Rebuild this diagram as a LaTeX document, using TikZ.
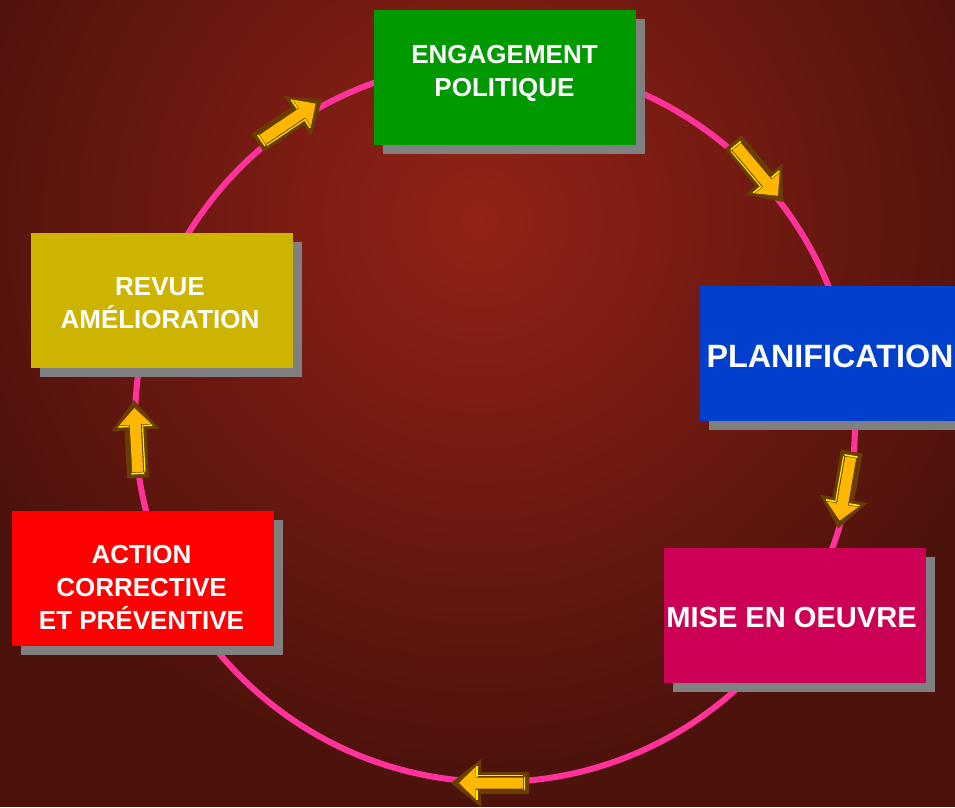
\documentclass[tikz,border=0pt]{standalone}
\usepackage{fontspec}
\setmainfont{Liberation Sans}
\usetikzlibrary{shadows}
\definecolor{bgout}{RGB}{76,18,12}
\definecolor{bglight}{RGB}{148,34,22}
\definecolor{ringpink}{RGB}{255,51,153}
\definecolor{boxgreen}{RGB}{0,153,0}
\definecolor{boxblue}{RGB}{0,64,204}
\definecolor{boxmagenta}{RGB}{204,0,85}
\definecolor{boxred}{RGB}{255,0,0}
\definecolor{boxyellow}{RGB}{204,180,0}
\definecolor{shadowgray}{RGB}{128,128,128}
\definecolor{arrowbrown}{RGB}{105,60,0}
\definecolor{arroworange}{RGB}{255,183,0}
\definecolor{arrowhi}{RGB}{255,238,0}
\tikzset{
  stepbox/.style={rectangle, draw=none, minimum width=196.5pt, minimum height=101.25pt, inner sep=0pt,
    drop shadow={shadow xshift=6.75pt, shadow yshift=-6.75pt, fill=shadowgray, opacity=1}},
  lbl/.style={text=white, align=center, inner sep=0pt, font=\fontsize{19.5pt}{24.75pt}\selectfont\bfseries},
  blockarrow/.pic={
    \fill[arrowbrown] (-39,-11) -- (9,-11) -- (9,-24) -- (39,0) -- (9,24) -- (9,11) -- (-39,11) -- cycle;
    \fill[arroworange] (-33,-5.5) -- (14.5,-5.5) -- (14.5,-16) -- (31,0) -- (14.5,16) -- (14.5,5.5) -- (-33,5.5) -- cycle;
    \draw[arrowhi, line width=1.2pt] (-34.5,-6.5) -- (-34.5,6.5);
    \draw[arrowhi, line width=1.2pt] (13,-6.5) -- (13,-17);
    \draw[arrowhi, line width=1.2pt] (13,6.5) -- (13,17);
    \draw[arrowhi, line width=0.9pt] (-33,7.2) -- (12,7.2);
  }
}
\begin{document}
\begin{tikzpicture}[x=0.75pt,y=-0.75pt]
\useasboundingbox (0,0) rectangle (955,807);
\begin{scope}
\clip (0,0) rectangle (955,807);
% background
\fill[bgout] (0,0) rectangle (955,807);
\shade[inner color=bglight, outer color=bgout] (480,220) circle (560);
% ring
\draw[ringpink, line width=4.5pt] (495,422) circle (360);
% arrows
\pic[rotate=34] (arr1) at (290,121) {blockarrow};
\pic[rotate=-50] (arr2) at (758,172) {blockarrow};
\pic[rotate=-100] (arr3) at (845,490) {blockarrow};
\pic[rotate=180] (arr4) at (490,783) {blockarrow};
\pic[rotate=93] (arr5) at (136,439) {blockarrow};
% boxes
\node[stepbox, fill=boxgreen] (eng) at (505,77.5) {};
\node[stepbox, fill=boxblue] (plan) at (831,353.5) {};
\node[stepbox, fill=boxmagenta] (mise) at (794.5,615.5) {};
\node[stepbox, fill=boxred] (act) at (142.5,578.5) {};
\node[stepbox, fill=boxyellow] (rev) at (162,300) {};
% labels
\node[lbl] (engt) at (504.5,73) {ENGAGEMENT\\POLITIQUE};
\node[lbl, font=\fontsize{24.2pt}{30pt}\selectfont\bfseries] (plant) at (830,356.7) {PLANIFICATION};
\node[lbl, font=\fontsize{21.8pt}{27pt}\selectfont\bfseries] (miset) at (791.5,617) {MISE EN OEUVRE};
\node[lbl] (actt) at (141.5,587) {ACTION\\CORRECTIVE\\ET PRÉVENTIVE};
\node[lbl] (revt) at (160,302.7) {REVUE\\AMÉLIORATION};
\end{scope}
\end{tikzpicture}
\end{document}
